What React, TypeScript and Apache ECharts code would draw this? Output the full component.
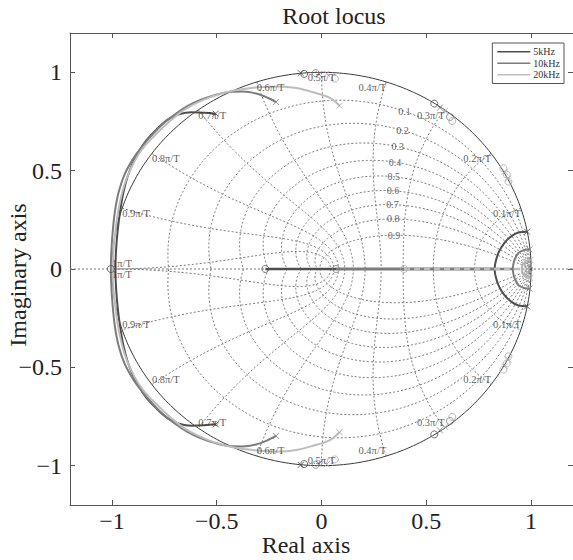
import React, { useEffect, useRef } from "react";
import * as echarts from "echarts";

// ---------- axes ----------
const xTicks = [-1, -0.5, 0, 0.5, 1];
const yTicks = [-1, -0.5, 0, 0.5, 1];
const axisMin = -1.2;
const axisMax = 1.2;

// ---------- z-plane grid (zgrid) ----------
const dampingRatios = [0.1, 0.2, 0.3, 0.4, 0.5, 0.6, 0.7, 0.8, 0.9];
const dampingLabelAngleDeg = [63.7, 61.3, 59.7, 57.2, 53.7, 49.4, 44.0, 36.6, 26.4];
const naturalFreqs = [0.1, 0.2, 0.3, 0.4, 0.5, 0.6, 0.7, 0.8, 0.9, 1.0]; // × π/T

// ---------- root loci (upper half; lower half is the conjugate) ----------
const seriesNames = ["5kHz", "10kHz", "20kHz"];
const seriesColors = ["#4e4e4e", "#7c7c7c", "#bdbdbd"];

// large arcs: pole -> zero at -1
const arc5k = [[-0.505, 0.79], [-0.56, 0.795], [-0.62, 0.797], [-0.676, 0.788], [-0.73, 0.762], [-0.787, 0.71], [-0.835, 0.655], [-0.87, 0.6], [-0.9, 0.54], [-0.925, 0.47], [-0.945, 0.39], [-0.96, 0.3], [-0.972, 0.2], [-0.98, 0.1], [-0.983, 0]];
const arc10k = [[-0.217, 0.849], [-0.26, 0.872], [-0.312, 0.892], [-0.375, 0.902], [-0.439, 0.9], [-0.51, 0.884], [-0.581, 0.858], [-0.64, 0.828], [-0.692, 0.792], [-0.76, 0.735], [-0.818, 0.671], [-0.865, 0.61], [-0.899, 0.56], [-0.94, 0.48], [-0.968, 0.39], [-0.986, 0.29], [-0.997, 0.18], [-1.003, 0.08], [-1.005, 0]];
const arc20k = [[0.086, 0.83], [0.04, 0.87], [-0.045, 0.9], [-0.12, 0.92], [-0.2, 0.928], [-0.28, 0.925], [-0.36, 0.917], [-0.439, 0.903], [-0.54, 0.87], [-0.644, 0.817], [-0.72, 0.755], [-0.787, 0.688], [-0.84, 0.63], [-0.875, 0.58], [-0.91, 0.51], [-0.94, 0.43], [-0.962, 0.34], [-0.978, 0.24], [-0.99, 0.13], [-0.995, 0.05], [-0.996, 0]];

// branches near z = 1: pole on circle -> break-in on real axis
const right5k = [[0.981, 0.19], [0.94, 0.186], [0.905, 0.166], [0.872, 0.132], [0.847, 0.088], [0.832, 0.042], [0.826, 0]];
const right10k = [[0.992, 0.1], [0.965, 0.096], [0.94, 0.082], [0.923, 0.052], [0.915, 0.022], [0.913, 0]];
const right20k = [[0.996, 0.046], [0.976, 0.041], [0.963, 0.027], [0.957, 0.012], [0.955, 0]];

// real-axis segments [from, to]
const real5k = [-0.268, 0.826];
const real10k = [0.069, 0.913];
const real20k = [0.394, 0.955];

// poles (x) and zeros (o), upper half + real axis
const poles5k = [[-0.505, 0.79], [0.981, 0.19], [-0.099, 0.996]];
const zeros5k = [[-0.268, 0], [-0.083, 0.992], [0.538, 0.841], [-1.005, 0]];
const poles10k = [[-0.217, 0.849], [0.992, 0.1], [0.565, 0.82], [-0.012, 0.99]];
const zeros10k = [[0.069, 0], [-0.028, 0.996], [0.613, 0.773]];
const poles20k = [[0.086, 0.83], [0.996, 0.046], [0.025, 0.993], [0.589, 0.803], [0.875, 0.495], [0.89, 0.46]];
const zeros20k = [[0.394, 0], [0.064, 0.968], [0.624, 0.752], [0.868, 0.512], [0.884, 0.48], [0.892, 0.444], [0.985, 0.02], [0.992, 0], [0.972, 0.012]];

// ---------- helpers ----------
type P = number[];
const conjPath = (upper: P[]): P[] => [
  ...upper,
  ...upper.slice(0, -1).reverse().map(([x, y]) => [x, -y]),
];
const withConj = (pts: P[]): P[] =>
  pts.flatMap(([x, y]) => (y === 0 ? [[x, y]] : [[x, y], [x, -y]]));

const GRID_COLOR = "#7a7a7a";
const FONT = "'Liberation Serif', 'DejaVu Serif', serif";
const X_SYMBOL = "path://M0 0L10 10M10 0L0 10";
const BIG = 24;

function buildOption() {
  const series: any[] = [];
  const gridLine = (data: P[], dash: number[] | string = [2, 2]) => ({
    type: "line",
    data,
    symbol: "none",
    silent: true,
    z: 1,
    lineStyle: { color: GRID_COLOR, width: 1, type: dash },
  });

  // real axis dotted across the whole plot
  series.push(gridLine([[axisMin, 0], [axisMax, 0]]));

  // constant damping spirals
  dampingRatios.forEach((zeta) => {
    const m = zeta / Math.sqrt(1 - zeta * zeta);
    const upper: P[] = [];
    const N = 160;
    for (let i = 0; i <= N; i++) {
      const phi = (Math.PI * i) / N;
      const r = Math.exp(-m * phi);
      upper.push([r * Math.cos(phi), r * Math.sin(phi)]);
    }
    const lower = upper.slice(1).map(([x, y]) => [x, -y]);
    series.push(gridLine([...lower.reverse(), ...upper]));
  });

  // constant natural frequency curves
  naturalFreqs.forEach((wn) => {
    const w = wn * Math.PI;
    const upper: P[] = [];
    const N = 80;
    for (let i = 0; i <= N; i++) {
      const t = (Math.PI / 2) * (i / N);
      const zeta = Math.sin(t);
      const r = Math.exp(-w * zeta);
      const a = w * Math.cos(t);
      upper.push([r * Math.cos(a), r * Math.sin(a)]);
    }
    series.push(gridLine(conjPath(upper)));
  });

  // unit circle (solid)
  const circle: P[] = [];
  for (let i = 0; i <= 360; i++) {
    const a = (2 * Math.PI * i) / 360;
    circle.push([Math.cos(a), Math.sin(a)]);
  }
  series.push({
    type: "line",
    data: circle,
    symbol: "none",
    silent: true,
    z: 2,
    lineStyle: { color: "#3a3a3a", width: 1 },
  });

  // loci
  const arcs = [arc5k, arc10k, arc20k];
  const rights = [right5k, right10k, right20k];
  const reals = [real5k, real10k, real20k];
  seriesNames.forEach((name, k) => {
    const color = seriesColors[k];
    const base = {
      type: "line",
      name,
      symbol: "none",
      silent: true,
      z: 3 + k,
      itemStyle: { color },
    };
    series.push({ ...base, data: conjPath(arcs[k]), smooth: 0.35, lineStyle: { color, width: 2 } });
    series.push({ ...base, data: conjPath(rights[k]), smooth: 0.35, lineStyle: { color, width: 2 } });
    series.push({
      ...base,
      data: [[reals[k][0], 0], [reals[k][1], 0]],
      lineStyle: { color, width: 2.5, type: k === 2 ? [6, 4] : "solid" },
    });
  });

  // markers
  const poles = [poles5k, poles10k, poles20k];
  const zeros = [zeros5k, zeros10k, zeros20k];
  seriesNames.forEach((_, k) => {
    const color = k === 2 ? "#a8a8a8" : seriesColors[k];
    series.push({
      type: "scatter",
      data: withConj(poles[k]),
      symbol: X_SYMBOL,
      symbolSize: 6,
      silent: true,
      z: 8,
      itemStyle: { color: "transparent", borderColor: color, borderWidth: 1 },
    });
    series.push({
      type: "scatter",
      data: withConj(zeros[k]),
      symbol: "circle",
      symbolSize: 7,
      silent: true,
      z: 8,
      itemStyle: { color: "transparent", borderColor: color, borderWidth: 1 },
    });
  });

  // grid labels: natural frequency
  const wnLabels: any[] = [];
  naturalFreqs.forEach((wn) => {
    const a = wn * Math.PI;
    const x = Math.cos(a);
    const y = Math.sin(a);
    const text = (wn === 1 ? "1" : String(wn)) + "π/T";
    const align = x > 0.05 ? "right" : x < -0.05 ? "left" : "center";
    if (wn === 1) {
      wnLabels.push({ value: [-1, 0], label: { formatter: text, align: "left", verticalAlign: "bottom" } });
      wnLabels.push({ value: [-1, 0], label: { formatter: text, align: "left", verticalAlign: "top" } });
    } else {
      wnLabels.push({ value: [x, y], label: { formatter: text, align, verticalAlign: "top" } });
      wnLabels.push({ value: [x, -y], label: { formatter: text, align, verticalAlign: "bottom" } });
    }
  });
  series.push({
    type: "scatter",
    data: wnLabels,
    symbolSize: 1,
    silent: true,
    z: 9,
    itemStyle: { color: "rgba(0,0,0,0)" },
    label: { show: true, position: "inside", fontFamily: FONT, fontSize: 10.5, color: "#333" },
  });

  // grid labels: damping ratio
  const zLabels = dampingRatios.map((zeta, i) => {
    const m = zeta / Math.sqrt(1 - zeta * zeta);
    const phi = (dampingLabelAngleDeg[i] * Math.PI) / 180;
    const r = Math.exp(-m * phi);
    return { value: [r * Math.cos(phi), r * Math.sin(phi)], label: { formatter: String(zeta) } };
  });
  series.push({
    type: "scatter",
    data: zLabels,
    symbolSize: 1,
    silent: true,
    z: 9,
    itemStyle: { color: "rgba(0,0,0,0)" },
    label: {
      show: true,
      position: "inside",
      align: "center",
      verticalAlign: "middle",
      fontFamily: FONT,
      fontSize: 10,
      color: "#333",
    },
  });

  const fmt = (v: number) => (v < 0 ? "\u2212" + String(-v) : String(v));
  const axisCommon = {
    type: "value",
    min: axisMin,
    max: axisMax,
    splitLine: { show: false },
    axisLine: { show: true, onZero: false, lineStyle: { color: "#555", width: 1 } },
  };
  const tick = (vals: number[]) => ({ show: true, inside: true, length: 5, customValues: vals, lineStyle: { color: "#555" } });

  return {
    animation: false,
    backgroundColor: "#fff",
    grid: { left: 70, right: -2, top: 33, bottom: 55, containLabel: false },
    xAxis: [
      {
        ...axisCommon,
        position: "bottom",
        axisTick: tick(xTicks),
        axisLabel: { customValues: xTicks, formatter: fmt, fontFamily: FONT, fontSize: BIG, color: "#222", margin: 4 },
      },
      { ...axisCommon, position: "top", axisTick: tick(xTicks), axisLabel: { show: false } },
    ],
    yAxis: [
      {
        ...axisCommon,
        position: "left",
        axisTick: tick(yTicks),
        axisLabel: { customValues: yTicks, formatter: fmt, fontFamily: FONT, fontSize: BIG, color: "#222", margin: 8 },
      },
      { ...axisCommon, position: "right", axisTick: tick(yTicks), axisLabel: { show: false } },
    ],
    legend: {
      data: seriesNames.map((n) => ({ name: n, icon: "rect" })),
      orient: "vertical",
      right: 9,
      top: 43,
      align: "left",
      itemWidth: 33,
      itemHeight: 1.3,
      itemGap: 0,
      padding: [3, 4, 3, 5],
      borderColor: "#555",
      borderWidth: 1,
      backgroundColor: "#fff",
      textStyle: { fontFamily: FONT, fontSize: 10, lineHeight: 11.5, color: "#333", padding: [0, 0, 0, -2] },
      selectedMode: false,
    },
    graphic: [
      {
        type: "text",
        x: 334,
        y: 16,
        style: { text: "Root locus", font: `${BIG}px ${FONT}`, fill: "#222", textAlign: "center", textVerticalAlign: "middle" },
      },
      {
        type: "text",
        x: 306,
        y: 545,
        style: { text: "Real axis", font: `${BIG}px ${FONT}`, fill: "#222", textAlign: "center", textVerticalAlign: "middle" },
      },
      {
        type: "text",
        x: 18,
        y: 275,
        rotation: Math.PI / 2,
        style: { text: "Imaginary axis", font: `${BIG}px ${FONT}`, fill: "#222", textAlign: "center", textVerticalAlign: "middle" },
      },
    ],
    series,
  };
}

export default function App() {
  const ref = useRef<HTMLDivElement>(null);
  useEffect(() => {
    if (!ref.current) return;
    const chart = echarts.init(ref.current, undefined, { renderer: "svg" });
    chart.setOption(buildOption() as any);
    return () => chart.dispose();
  }, []);
  return (
    <div
      ref={ref}
      style={{ position: "fixed", left: 0, top: 0, width: 573, height: 560, background: "#fff" }}
    />
  );
}
